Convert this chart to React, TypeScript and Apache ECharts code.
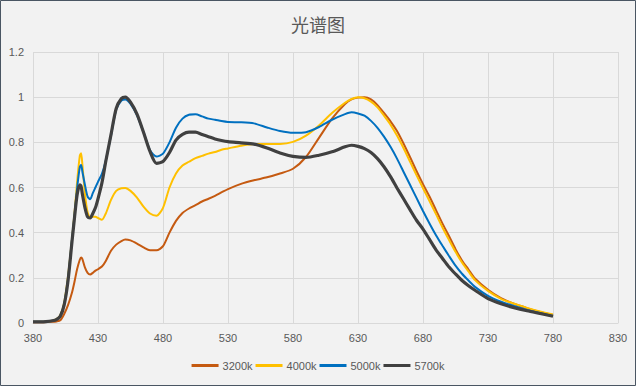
import React, { useEffect, useRef } from "react";
import * as echarts from "echarts";

const titleText = "光谱图";
const seriesNames = ["3200k", "4000k", "5000k", "5700k"];
const seriesColors = ["#C55A11", "#FFC000", "#0070C0", "#404040"];

const wavelengths = [
  380, 385, 390, 395, 398, 401, 404, 407, 410, 412, 414, 416, 417, 418, 420, 422, 424, 426, 428, 430,
  433, 436, 440, 444, 448, 451, 455, 460, 465, 470, 475, 480, 485, 490, 495, 500, 505, 510, 515, 520,
  525, 530, 540, 550, 560, 570, 580, 590, 600, 610, 620, 625, 630, 635, 640, 645, 650, 655, 660, 665,
  670, 675, 680, 685, 690, 695, 700, 705, 710, 715, 720, 730, 740, 750, 760, 770, 780,
];

const v3200k = [
  0.003, 0.003, 0.004, 0.005, 0.007, 0.012, 0.04, 0.08, 0.135, 0.185, 0.24, 0.28, 0.29, 0.283, 0.245, 0.222, 0.215, 0.222, 0.232, 0.238,
  0.25, 0.275, 0.32, 0.347, 0.363, 0.37, 0.366, 0.352, 0.335, 0.322, 0.322, 0.34, 0.4, 0.452, 0.487, 0.507, 0.522, 0.538, 0.55, 0.563,
  0.578, 0.593, 0.616, 0.632, 0.645, 0.662, 0.683, 0.735, 0.82, 0.905, 0.97, 0.99, 0.998, 1.0, 0.99, 0.965,
  0.93, 0.893, 0.85, 0.795, 0.735, 0.673, 0.615, 0.56, 0.5, 0.44, 0.385, 0.327, 0.277, 0.237, 0.197, 0.147, 0.11, 0.085, 0.066, 0.049, 0.035,
];

const v4000k = [
  0.005, 0.005, 0.006, 0.01, 0.017, 0.035, 0.09, 0.21, 0.37, 0.49, 0.63, 0.74, 0.752, 0.7, 0.57, 0.49, 0.468, 0.47, 0.47, 0.465,
  0.457, 0.485, 0.545, 0.585, 0.597, 0.598, 0.585, 0.555, 0.515, 0.485, 0.475, 0.51, 0.6, 0.662, 0.697, 0.714, 0.73, 0.74, 0.75, 0.757,
  0.767, 0.773, 0.785, 0.793, 0.793, 0.793, 0.802, 0.83, 0.875, 0.93, 0.975, 0.992, 1.0, 0.995, 0.98, 0.955,
  0.918, 0.878, 0.83, 0.775, 0.715, 0.655, 0.597, 0.54, 0.482, 0.423, 0.368, 0.315, 0.268, 0.228, 0.19, 0.142, 0.107, 0.085, 0.067, 0.051, 0.038,
];

const v5000k = [
  0.005, 0.005, 0.006, 0.01, 0.016, 0.032, 0.085, 0.2, 0.37, 0.48, 0.6, 0.69, 0.7, 0.67, 0.61, 0.56, 0.548, 0.575, 0.6, 0.625,
  0.66, 0.72, 0.83, 0.945, 0.985, 0.99, 0.97, 0.92, 0.845, 0.765, 0.737, 0.75, 0.8, 0.865, 0.905, 0.922, 0.924, 0.915, 0.905, 0.9,
  0.894, 0.89, 0.889, 0.884, 0.866, 0.85, 0.842, 0.845, 0.868, 0.9, 0.925, 0.933, 0.928, 0.918, 0.895, 0.864,
  0.825, 0.78, 0.728, 0.67, 0.612, 0.554, 0.496, 0.441, 0.389, 0.342, 0.297, 0.254, 0.218, 0.188, 0.16, 0.12, 0.094, 0.075, 0.058, 0.044, 0.031,
];

const v5700k = [
  0.005, 0.005, 0.006, 0.01, 0.015, 0.03, 0.08, 0.19, 0.36, 0.47, 0.57, 0.612, 0.605, 0.57, 0.51, 0.47, 0.465, 0.485, 0.51, 0.55,
  0.62, 0.716, 0.834, 0.95, 0.994, 1.0, 0.978, 0.925, 0.845, 0.76, 0.707, 0.715, 0.755, 0.81, 0.835, 0.845, 0.845, 0.835, 0.825, 0.815,
  0.808, 0.803, 0.798, 0.792, 0.775, 0.753, 0.738, 0.733, 0.743, 0.758, 0.78, 0.787, 0.782, 0.772, 0.755, 0.728,
  0.692, 0.648, 0.598, 0.55, 0.502, 0.455, 0.416, 0.37, 0.324, 0.286, 0.248, 0.217, 0.188, 0.165, 0.145, 0.108, 0.085, 0.068, 0.054, 0.042, 0.03,
];

const seriesValues = [v3200k, v4000k, v5000k, v5700k];
const lineWidths = [2, 2, 2, 3.2];

export default function App() {
  const ref = useRef<HTMLDivElement>(null);

  useEffect(() => {
    document.body.style.margin = "0";
    if (!ref.current) return;
    const chart = echarts.init(ref.current, null, { renderer: "svg" });
    const font = "'Liberation Sans', 'Noto Sans', sans-serif";
    chart.setOption({
      animation: false,
      backgroundColor: "#F2F2F2",
      title: {
        text: titleText,
        left: "center",
        top: 10,
        textStyle: {
          fontFamily: "'Noto Sans CJK SC', sans-serif",
          fontSize: 18,
          fontWeight: "normal",
          color: "#595959",
        },
      },
      graphic: [
        {
          type: "rect",
          shape: { x: 0.5, y: 0.5, width: 635, height: 385 },
          style: { fill: "none", stroke: "#4A5663", lineWidth: 1 },
          silent: true,
        },
      ],
      legend: {
        left: "center",
        top: 355,
        icon: "rect",
        itemWidth: 27,
        itemHeight: 3,
        itemGap: 3,
        textStyle: { fontFamily: font, fontSize: 11, color: "#595959", padding: [0, 0, 0, -1] },
        data: seriesNames,
      },
      grid: { left: 33, right: 18, top: 52, bottom: 63, containLabel: false },
      xAxis: {
        type: "value",
        min: 380,
        max: 830,
        interval: 50,
        axisLine: { show: true, lineStyle: { color: "#D9D9D9", width: 1 } },
        axisTick: { show: false },
        axisLabel: { color: "#595959", fontFamily: font, fontSize: 11, margin: 9 },
        splitLine: { show: true, lineStyle: { color: "#D9D9D9", width: 1 } },
      },
      yAxis: {
        type: "value",
        min: 0,
        max: 1.2,
        interval: 0.2,
        axisLine: { show: false },
        axisTick: { show: false },
        axisLabel: {
          color: "#595959",
          fontFamily: font,
          fontSize: 11,
          margin: 9,
          formatter: (v: number) => String(Math.round(v * 10) / 10),
        },
        splitLine: { show: true, lineStyle: { color: "#D9D9D9", width: 1 } },
      },
      series: seriesNames.map((name, i) => ({
        name,
        type: "line",
        data: wavelengths.map((w, j) => [w, seriesValues[i][j]]),
        showSymbol: false,
        symbol: "none",
        smooth: 0.25,
        color: seriesColors[i],
        lineStyle: { color: seriesColors[i], width: lineWidths[i] },
      })),
    });
    return () => chart.dispose();
  }, []);

  return <div ref={ref} style={{ width: 636, height: 386 }} />;
}
